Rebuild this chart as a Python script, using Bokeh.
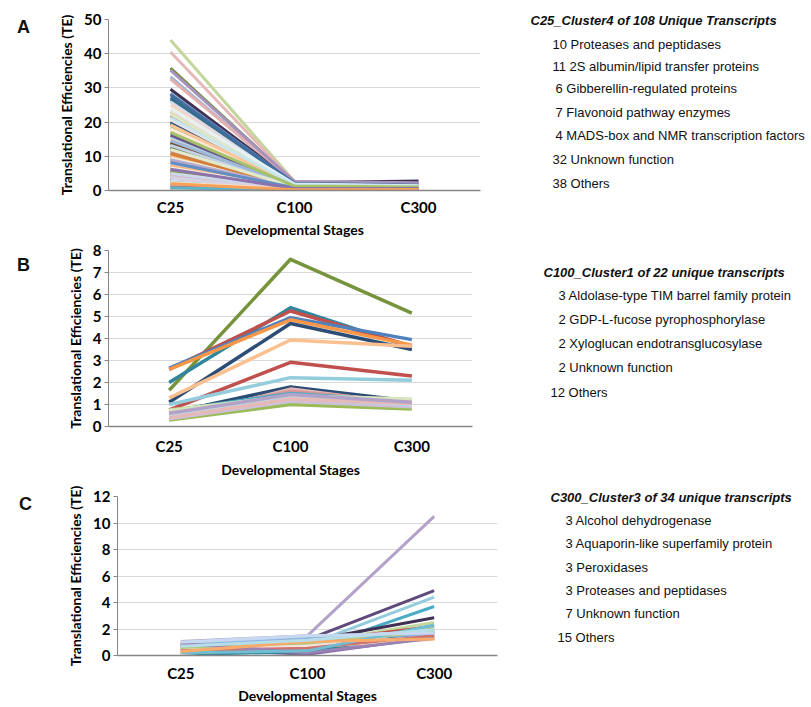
from bokeh.plotting import figure
from bokeh.models import Range1d, Label, FixedTicker, ColumnDataSource
from bokeh.layouts import column, row
from bokeh.embed import file_html
from bokeh.resources import INLINE

STAGES = ["C25", "C100", "C300"]
Y_TITLE = "Translational Efficiencies (TE)"
X_TITLE = "Developmental Stages"

# ---------------- Panel A : C25_Cluster4 (108 transcripts) ----------------
A_TICKS = [0, 10, 20, 30, 40, 50]
A_C25 = [
    26.6, 9.8, 18.4, 4.5, 12.2, 2.7, 1.7, 7.4, 22.9, 1.1, 3.8, 15.3,
    33.2, 5.8, 44.0, 2.6, 8.7, 1.5, 20.1, 6.3, 35.8, 0.9, 13.7, 2.2,
    11.1, 40.5, 3.3, 16.8, 1.3, 24.9, 5.1, 0.7, 9.1, 29.6, 2.0, 14.1,
    28.4, 6.8, 1.6, 21.8, 3.5, 10.3, 0.8, 17.3, 4.1, 25.9, 1.2, 7.7,
    19.6, 2.9, 12.6, 1.0, 27.1, 5.3, 8.0, 32.6, 1.8, 3.0, 15.7, 0.6,
    4.7, 23.6, 9.5, 1.4, 6.0, 18.0, 2.4, 11.7, 3.9, 35.2, 1.9, 7.1,
    13.2, 0.9, 22.3, 4.3, 2.1, 8.4, 28.0, 1.5, 5.5, 16.2, 3.2, 10.8,
    1.1, 20.7, 6.6, 2.8, 24.1, 1.3, 14.6, 4.9, 0.7, 9.0, 2.5, 19.2,
    5.0, 1.7, 12.0, 3.6, 21.2, 2.3, 8.2, 1.0, 17.0, 6.2, 0.8, 2.0,
]
A_C100 = [
    1.8, 0.9, 1.4, 0.5, 1.1, 0.3, 0.2, 0.8, 2.0, 0.1, 0.4, 1.2,
    2.2, 0.6, 2.6, 0.3, 0.9, 0.2, 1.6, 0.7, 2.4, 0.1, 1.0, 0.3,
    1.0, 2.5, 0.4, 1.3, 0.2, 1.9, 0.5, 0.1, 0.8, 2.3, 0.3, 1.1,
    2.1, 0.6, 0.2, 1.7, 0.4, 0.9, 0.1, 1.4, 0.5, 2.0, 0.2, 0.7,
    1.5, 0.3, 1.0, 0.1, 2.2, 0.6, 0.8, 2.7, 0.2, 0.3, 1.2, 0.1,
    0.5, 1.8, 0.9, 0.2, 0.6, 1.4, 0.3, 1.0, 0.4, 2.6, 0.2, 0.7,
    1.1, 0.1, 1.7, 0.4, 0.3, 0.8, 2.1, 0.2, 0.5, 1.3, 0.4, 1.0,
    0.2, 1.6, 0.6, 0.3, 1.9, 0.2, 1.2, 0.5, 0.1, 0.9, 0.3, 1.5,
    0.5, 0.2, 1.1, 0.4, 1.7, 0.3, 0.8, 0.1, 1.3, 0.6, 0.1, 0.2,
]
A_C300 = [
    1.2, 0.7, 1.0, 0.4, 0.9, 0.3, 0.3, 0.6, 1.4, 0.2, 0.5, 1.1,
    1.5, 0.5, 1.3, 0.4, 0.8, 0.2, 1.2, 0.6, 1.6, 0.2, 0.9, 0.3,
    0.8, 1.4, 0.5, 2.6, 0.3, 1.3, 0.4, 0.2, 0.7, 2.8, 0.3, 0.9,
    1.5, 0.5, 0.3, 1.2, 0.4, 0.8, 0.2, 1.1, 0.6, 1.4, 0.3, 0.6,
    1.1, 0.4, 0.9, 0.2, 1.6, 0.5, 0.7, 1.7, 0.3, 0.4, 1.0, 0.2,
    0.6, 1.3, 0.8, 0.3, 0.5, 1.1, 0.4, 0.9, 0.5, 2.3, 0.3, 0.6,
    0.9, 0.2, 1.2, 0.5, 0.4, 0.7, 1.5, 0.3, 0.6, 1.0, 0.5, 0.8,
    0.3, 1.2, 0.6, 0.4, 1.4, 0.3, 1.0, 0.5, 0.2, 0.8, 0.4, 1.1,
    0.6, 0.3, 0.9, 0.5, 1.3, 0.4, 0.7, 0.2, 1.0, 0.6, 0.2, 0.3,
]
A_TITLE = "C25_Cluster4 of 108 Unique Transcripts"
A_ITEMS = ["10 Proteases and peptidases",
           "11 2S albumin/lipid transfer proteins",
           "6 Gibberellin-regulated proteins",
           "7 Flavonoid pathway enzymes",
           "4 MADS-box and NMR transcription factors",
           "32 Unknown function",
           "38 Others"]

# ---------------- Panel B : C100_Cluster1 (22 transcripts) ----------------
B_TICKS = [0, 1, 2, 3, 4, 5, 6, 7, 8]
B_C25 = [1.65, 2.0, 2.6, 2.65, 2.6, 1.1, 1.3, 0.75, 1.0, 0.6, 0.3,
         0.5, 0.7, 0.75, 0.7, 0.5, 0.45, 0.3, 0.35, 0.55, 0.4, 0.6]
B_C100 = [7.6, 5.4, 5.25, 4.95, 4.85, 4.68, 3.93, 2.92, 2.22, 1.8, 1.7,
          1.6, 1.5, 1.35, 1.4, 1.2, 1.1, 1.0, 1.15, 1.3, 1.25, 1.45]
B_C300 = [5.15, 3.6, 3.65, 3.95, 3.7, 3.5, 3.65, 2.3, 2.1, 1.15, 1.0,
          1.1, 1.15, 1.2, 1.25, 1.05, 0.95, 0.8, 0.9, 1.0, 1.05, 1.1]
B_TITLE = "C100_Cluster1 of 22 unique transcripts"
B_ITEMS = ["3 Aldolase-type TIM barrel family protein",
           "2 GDP-L-fucose pyrophosphorylase",
           "2 Xyloglucan endotransglucosylase",
           "2 Unknown function",
           "12 Others"]

# ---------------- Panel C : C300_Cluster3 (34 transcripts) ----------------
C_TICKS = [0, 2, 4, 6, 8, 10, 12]
C_C25 = [1.05, 0.9, 0.6, 0.1, 0.8, 0.5, 0.7, 0.3, 0.4, 0.8, 0.3, 0.2,
         0.5, 1.0, 0.9, 0.7, 0.6, 0.4, 0.25, 0.55, 0.05, 0.95, 0.65, 0.45,
         0.85, 0.15, 0.75, 0.35, 0.6, 0.9, 0.2, 0.3, 0.7, 1.0]
C_C100 = [1.5, 1.2, 0.8, 0.4, 1.1, 0.9, 1.0, 0.6, 0.5, 1.2, 0.9, 0.8,
          0.1, 1.4, 1.3, 0.4, 1.1, 0.7, 0.95, 0.85, 0.3, 1.45, 1.2, 0.75,
          1.35, 0.65, 1.25, 0.55, 0.95, 0.2, 0.35, 1.05, 1.15, 1.5]
C_C300 = [10.5, 4.9, 4.4, 3.7, 2.85, 2.5, 2.2, 2.05, 1.9, 1.7, 1.3, 1.2,
          1.4, 1.8, 1.6, 1.5, 1.7, 2.0, 1.35, 1.55, 1.8, 1.6, 1.9, 1.45,
          1.75, 1.25, 1.65, 1.5, 1.85, 1.3, 2.3, 1.25, 1.95, 1.7]
C_TITLE = "C300_Cluster3 of 34 unique transcripts"
C_ITEMS = ["3 Alcohol dehydrogenase",
           "3 Aquaporin-like superfamily protein",
           "3 Peroxidases",
           "3 Proteases and peptidases",
           "7 Unknown function",
           "15 Others"]

# ---------------- styles ----------------
BASES = ["#4F81BD", "#C0504D", "#9BBB59", "#8064A2", "#4BACC6", "#F79646"]
VARIANTS = [0, 0.5, 0.4, -0.25, 0.6, -0.5, 0.2, 0.75, -0.35,
            0.55, 0.8, 0.3, 0.65, -0.15, 0.85, 0.45, 0.7, 0.1]


def excel_color(i):
    h = BASES[i % 6]
    v = VARIANTS[(i // 6) % len(VARIANTS)]
    rgb = [int(h[k:k + 2], 16) for k in (1, 3, 5)]
    if v < 0:
        rgb = [int(c * (1 + v)) for c in rgb]
    else:
        rgb = [int(c + (255 - c) * v) for c in rgb]
    return "#%02x%02x%02x" % tuple(rgb)


A_COLORS = [excel_color(i) for i in range(len(A_C25))]
B_COLORS = ["#77933C", "#31859C", "#C0504D", "#4F81BD", "#F79646", "#2C4D75",
            "#FAC090", "#C0504D", "#93CDDD", "#2C4D75", "#E6B9B8", "#D99694",
            "#4BACC6", "#C3D69B", "#D7E4BD", "#8EB4E3", "#F2DCDB", "#9BBB59",
            "#CCC1DA", "#B7DEE8", "#E6B9B8", "#B3A2C7"]
C_COLORS = ["#B3A2C7", "#604A7B", "#93CDDD", "#4BACC6", "#403152", "#C3D69B",
            "#C0504D", "#B7DEE8", "#92CDDC", "#E6B9B8", "#FAC090", "#FCD5B5",
            "#8064A2", "#CCC1DA", "#95B3D7", "#D99694", "#4F81BD", "#9BBB59",
            "#F79646", "#D7E4BD", "#31859C", "#E6E0EC", "#DBEEF4", "#F2DCDB",
            "#B9CDE5", "#FDEADA", "#8EB4E3", "#CD7371", "#AFC97A", "#9983B5",
            "#6FBDD1", "#F9AB6B", "#B7DEE8", "#C6D9F1"]

LETTER_W = 40      # left strip holding the panel letter
PLOT_R = 500       # right edge of the chart figures
TOTAL_W = 810
TOTAL_H = 706
AX_FONT = "Lato"
TXT_FONT = "Liberation Sans"
XPOS = list(range(len(STAGES)))


def blank(x0, x1, y0, y1, top, bottom):
    f = figure(width=x1 - x0, height=y1 - y0,
               x_range=Range1d(x0, x1), y_range=Range1d(-bottom, -top),
               output_backend="svg", toolbar_location=None,
               min_border=0, min_border_left=0, min_border_right=0,
               min_border_top=top - y0, min_border_bottom=y1 - bottom)
    f.axis.visible = False
    f.grid.visible = False
    f.outline_line_color = None
    return f


def lab(f, x, y, text, size, style, align="left"):
    f.add_layout(Label(x=x, y=-y, text=text, text_font=TXT_FONT,
                       text_font_size=size, text_font_style=style,
                       text_align=align, text_baseline="middle",
                       text_color="#111111"))


def panel(fig_top, fig_bot, frame, ticks, c25, c100, c300, colors, lw,
          letter, letter_xy, lab_std, title_std):
    left, right, top, bottom = frame
    p = figure(width=PLOT_R - LETTER_W, height=fig_bot - fig_top,
               x_range=Range1d(-0.5, len(STAGES) - 0.5),
               y_range=Range1d(ticks[0], ticks[-1]),
               output_backend="svg", toolbar_location=None,
               min_border_left=left - LETTER_W,
               min_border_right=PLOT_R - right,
               min_border_top=top - fig_top,
               min_border_bottom=fig_bot - bottom)
    p.outline_line_color = None

    src = ColumnDataSource(dict(
        xs=[XPOS for _ in c25],
        ys=[[a, b, c] for a, b, c in zip(c25, c100, c300)],
        color=colors[:len(c25)]))
    p.multi_line("xs", "ys", source=src, line_color="color",
                 line_width=lw, line_join="round")

    p.xgrid.visible = False
    p.ygrid.grid_line_color = "#d9d9d9"
    p.ygrid.grid_line_width = 1.2
    p.yaxis.ticker = FixedTicker(ticks=ticks)
    p.yaxis.minor_tick_line_color = None
    p.yaxis.axis_line_color = "#868686"
    p.yaxis.major_tick_line_color = "#868686"
    p.yaxis.major_tick_in = 0
    p.yaxis.major_tick_out = 4
    p.yaxis.major_label_standoff = 3
    p.yaxis.axis_label_standoff = 6
    p.xaxis.ticker = FixedTicker(ticks=XPOS)
    p.xaxis.major_label_overrides = {i: s for i, s in zip(XPOS, STAGES)}
    p.xaxis.minor_tick_line_color = None
    p.xaxis.axis_line_color = "#868686"
    p.xaxis.axis_line_width = 1.5
    p.xaxis.major_tick_line_color = None
    p.xaxis.major_tick_in = 0
    p.xaxis.major_tick_out = 0
    p.xaxis.major_label_standoff = lab_std
    p.xaxis.axis_label_standoff = title_std
    for ax in (p.xaxis, p.yaxis):
        ax.major_label_text_font = AX_FONT
        ax.major_label_text_font_style = "bold"
        ax.major_label_text_font_size = "15px"
        ax.major_label_text_color = "#000000"
        ax.axis_label_text_font = AX_FONT
        ax.axis_label_text_font_style = "bold"
        ax.axis_label_text_color = "#000000"
    p.yaxis.axis_label_text_font_size = "14px"
    p.xaxis.axis_label_text_font_size = "14px"
    p.yaxis.axis_label = Y_TITLE
    p.xaxis.axis_label = X_TITLE

    # letter strip: the row aligns its frame with the chart frame
    left_f = blank(0, LETTER_W, fig_top, fig_bot, top, bottom)
    lab(left_f, letter_xy[0], letter_xy[1], letter, "18px", "bold", "center")
    return row(left_f, p)


pA = panel(0, 240, (108, 480, 19, 192), A_TICKS, A_C25, A_C100, A_C300,
           A_COLORS, 3, "A", (23, 27), 7, 2)
pB = panel(240, 482, (108, 472, 250, 426), B_TICKS, B_C25, B_C100, B_C300,
           B_COLORS, 3.5, "B", (23, 264), 10, 3)
pC = panel(482, 706, (117, 497, 496, 658), C_TICKS, C_C25, C_C100, C_C300,
           C_COLORS, 3, "C", (25, 504), 8, 2)

# one full-height text strip on the right for the three cluster summaries
text_f = blank(PLOT_R, TOTAL_W, 0, TOTAL_H, 0, TOTAL_H)
for title, tx, ty, items, ix, iy in [
        (A_TITLE, 530, 20, A_ITEMS, [552, 552, 555, 555, 555, 552, 552],
         [44, 66, 88, 112, 135, 159, 183]),
        (B_TITLE, 543, 272, B_ITEMS, [558, 558, 558, 558, 550],
         [295, 319, 343, 367, 392]),
        (C_TITLE, 550, 497, C_ITEMS, [565, 565, 565, 565, 565, 557],
         [520, 543, 567, 590, 613, 637])]:
    lab(text_f, tx, ty, title, "13px", "bold italic")
    for t, x, y in zip(items, ix, iy):
        lab(text_f, x, y, t, "13px", "normal")

layout = row(column(pA, pB, pC), text_f)
open("out.html", "w").write(file_html(layout, INLINE))
